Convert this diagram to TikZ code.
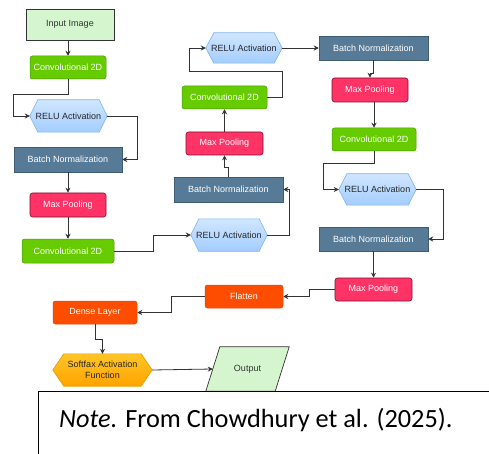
\documentclass[tikz,border=0pt]{standalone}
\usepackage{fontspec}
\setmainfont{Liberation Sans}
\newfontfamily\notefont{Carlito}
\usetikzlibrary{arrows.meta,backgrounds}
\definecolor{convf}{HTML}{66CC00}
\definecolor{convd}{HTML}{4E9A06}
\definecolor{bnf}{HTML}{577B97}
\definecolor{bnd}{HTML}{3E5D75}
\definecolor{mpf}{HTML}{FF3366}
\definecolor{mpd}{HTML}{7A1030}
\definecolor{orf}{HTML}{FF4D00}
\definecolor{ord}{HTML}{E04400}
\definecolor{lgf}{HTML}{D5F5CF}
\definecolor{relut}{HTML}{D0E6FF}
\definecolor{relub}{HTML}{A3CDFF}
\definecolor{relud}{HTML}{7FB2EA}
\definecolor{softt}{HTML}{FFC526}
\definecolor{softb}{HTML}{FFA400}
\definecolor{softd}{HTML}{E69A00}
\definecolor{linec}{HTML}{333333}
\newcommand\hexshape[3]{\draw[#3] (#1.west) -- ([xshift=#2pt]#1.north west) -- ([xshift=-#2pt]#1.north east) -- (#1.east) -- ([xshift=-#2pt]#1.south east) -- ([xshift=#2pt]#1.south west) -- cycle;}
\begin{document}
\begin{tikzpicture}[x=1pt,y=-1pt,
  font=\fontsize{9}{11.5}\selectfont,
  box/.style={rectangle, inner sep=0pt, align=center},
  inbox/.style={box, fill=lgf, draw=linec, line width=0.7pt, text=linec},
  conv/.style={box, fill=convf, draw=convd, line width=0.5pt, rounded corners=2.5pt, text=white},
  bn/.style={box, fill=bnf, draw=bnd, line width=0.5pt, text=white},
  mp/.style={box, fill=mpf, draw=mpd, line width=0.6pt, rounded corners=2.5pt, text=white},
  orb/.style={box, fill=orf, draw=ord, line width=0.5pt, rounded corners=2.5pt, text=white},
  hexnode/.style={box, text=black!85},
  relusty/.style={top color=relut, bottom color=relub, draw=relud, line width=0.6pt},
  softsty/.style={top color=softt, bottom color=softb, draw=softd, line width=0.6pt},
  outsty/.style={fill=lgf, draw=linec, line width=0.7pt},
  arr/.style={draw=linec, line width=0.8pt, -{Stealth[length=5pt,width=5pt]}},
  notebox/.style={draw=black, line width=1.2pt}
]
\useasboundingbox (0,0) rectangle (489,454);
% column 1
\node[inbox, minimum width=88pt, minimum height=31pt] (inp) at (70,24.5) {Input Image};
\node[conv, minimum width=76pt, minimum height=23pt] (c1) at (68,67.5) {Convolutional 2D};
\node[hexnode, minimum width=77pt, minimum height=32pt] (r1) at (68.5,116) {RELU Activation};
\node[bn, minimum width=108pt, minimum height=25pt] (b1) at (68,159.5) {Batch Normalization};
\node[mp, minimum width=76pt, minimum height=24pt] (m1) at (68,205) {Max Pooling};
\node[conv, minimum width=92pt, minimum height=24pt] (c2) at (68,251) {Convolutional 2D};
\node[orb, minimum width=84pt, minimum height=23pt] (dense) at (95,312.5) {Dense Layer};
\node[hexnode, minimum width=99pt, minimum height=32pt] (soft) at (102.5,370) {Softfax Activation\\Function};
\node[box, minimum width=69pt, minimum height=44pt, text=linec] (out) at (247.5,369) {Output};
% column 2
\node[hexnode, minimum width=76pt, minimum height=30pt] (r2) at (244,48) {RELU Activation};
\node[conv, minimum width=85pt, minimum height=23pt] (c3) at (224.5,97.5) {Convolutional 2D};
\node[mp, minimum width=77pt, minimum height=23pt] (m2) at (224.5,143.5) {Max Pooling};
\node[bn, minimum width=109pt, minimum height=25pt] (b2) at (228.5,189.5) {Batch Normalization};
\node[hexnode, minimum width=76pt, minimum height=32pt] (r3) at (229,235) {RELU Activation};
\node[orb, minimum width=78pt, minimum height=23pt] (flat) at (244,296.5) {Flatten};
% column 3
\node[bn, minimum width=109pt, minimum height=24pt] (b3) at (373.5,48) {Batch Normalization};
\node[mp, minimum width=76pt, minimum height=24pt] (m3) at (370,90) {Max Pooling};
\node[conv, minimum width=84pt, minimum height=23pt] (c4) at (374,139.5) {Convolutional 2D};
\node[hexnode, minimum width=77pt, minimum height=31pt] (r4) at (377.5,189.5) {RELU Activation};
\node[bn, minimum width=109pt, minimum height=24pt] (b4) at (373.5,239) {Batch Normalization};
\node[mp, minimum width=77pt, minimum height=23pt] (m4) at (373.5,289.5) {Max Pooling};
% connectors
\draw[arr] (inp.south -| c1.north) -- (c1.north);
\draw[arr] (c1.south) -- ++(0,15) -| ([xshift=-16pt]r1.west) -- (r1.west);
\draw[arr] (r1.east) -| ([xshift=15pt]b1.east) -- (b1.east);
\draw[arr] (b1.south) -- (m1.north);
\draw[arr] (m1.south) -- (c2.north);
\draw[arr] (c2.east) -- ++(39,0) |- (r3.west);
\draw[arr] (r3.east) -| ([xshift=6pt]b2.east) -- (b2.east);
\draw[arr] (b2.north) -- ++(0,-9) -| (m2.south);
\draw[arr] (m2.north) -- (c3.south);
\draw[arr] (c3.east) -- ++(15,0) -- ++(0,-26.5) -| ([xshift=-16pt]r2.west) -- (r2.west);
\draw[arr] (r2.east) -- (b3.west);
\draw[arr] (b3.south) -- ++(0,13) -| (m3.north);
\draw[arr] (m3.south -| c4.north) -- (c4.north);
\draw[arr] (c4.south) -- ++(0,12) -| ([xshift=-15pt]r4.west) -- (r4.west);
\draw[arr] (r4.east) -| ([xshift=15pt]b4.east) -- (b4.east);
\draw[arr] (b4.south) -- (m4.north);
\draw[arr] (m4.west) -- ++(-25,0) |- (flat.east);
\draw[arr] (flat.west) -- ++(-33,0) |- (dense.east);
\draw[arr] (dense.south) -- ++(0,15) -| (soft.north);
\draw[arr] (soft.east) -- (out.west);
% note
\node[notebox, rectangle, minimum width=470pt, minimum height=80pt, anchor=north west] (note) at (38,391) {};
\node[anchor=base west, inner sep=0pt, font=\notefont\fontsize{26.3}{30}\selectfont] (notetext) at (59,427) {\textit{Note.} From Chowdhury et al. (2025).};
% backgrounds
\begin{scope}[on background layer]
\fill[white] (0,0) rectangle (489,454);
\hexshape{r1}{8}{relusty}
\hexshape{r2}{8}{relusty}
\hexshape{r3}{8}{relusty}
\hexshape{r4}{8}{relusty}
\hexshape{soft}{11}{softsty}
\draw[outsty] ([xshift=-7pt]out.south west) -- ([xshift=7pt]out.north west) -- ([xshift=7pt]out.north east) -- ([xshift=-7pt]out.south east) -- cycle;
\end{scope}
\end{tikzpicture}
\end{document}
